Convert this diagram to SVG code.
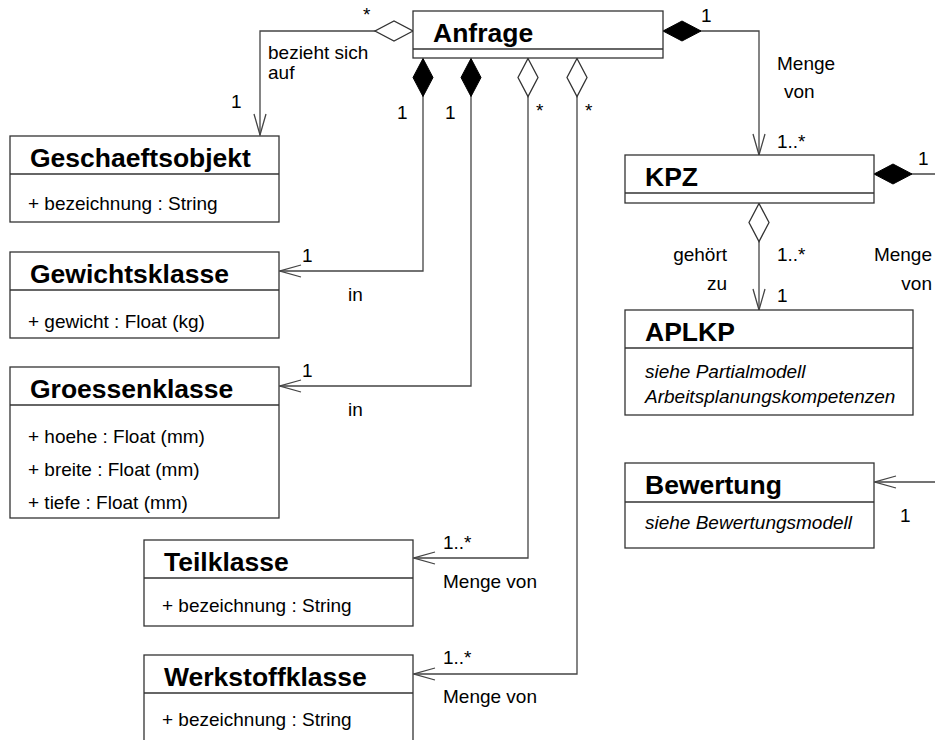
<svg xmlns="http://www.w3.org/2000/svg" width="935" height="740" viewBox="0 0 935 740">
  <style>
    .box { fill: #ffffff; stroke: #333333; stroke-width: 1.3; }
    .sep { stroke: #333333; stroke-width: 1.3; fill: none; }
    .name { font-family: "Liberation Sans", Arial, sans-serif; font-size: 26.5px; font-weight: bold; fill: #000000; }
    .attr { font-family: "Liberation Sans", Arial, sans-serif; font-size: 19px; fill: #000000; }
    .note { font-family: "Liberation Sans", Arial, sans-serif; font-size: 19px; font-style: italic; fill: #000000; }
    .lbl { font-family: "Liberation Sans", Arial, sans-serif; font-size: 19px; fill: #000000; }
    .conn { fill: none; stroke: #444444; stroke-width: 1.3; }
  </style>
  <defs>
    <marker id="arrowOpen" markerUnits="userSpaceOnUse" viewBox="0 0 23 14" refX="22" refY="7" markerWidth="23" markerHeight="14" orient="auto">
      <path d="M1,1 L22,7 L1,13" fill="none" stroke="#444444" stroke-width="1.3"/>
    </marker>
    <marker id="diamondOpen" markerUnits="userSpaceOnUse" viewBox="-1 -1 41 22" refX="0" refY="10" markerWidth="41" markerHeight="22" orient="auto">
      <path d="M0,10 L19,0 L38,10 L19,20 Z" fill="#ffffff" stroke="#333333" stroke-width="1.3"/>
    </marker>
    <marker id="diamondFilled" markerUnits="userSpaceOnUse" viewBox="-1 -1 41 22" refX="0" refY="10" markerWidth="41" markerHeight="22" orient="auto">
      <path d="M0,10 L19,0 L38,10 L19,20 Z" fill="#000000" stroke="#000000" stroke-width="1"/>
    </marker>
  </defs>

  <!-- associations -->
  <g id="connectors">
    <path class="conn" d="M413,31 H260 V135" marker-start="url(#diamondOpen)" marker-end="url(#arrowOpen)"/>
    <path class="conn" d="M423,58.5 V271 H280" marker-start="url(#diamondFilled)" marker-end="url(#arrowOpen)"/>
    <path class="conn" d="M471,58.5 V386 H280" marker-start="url(#diamondFilled)" marker-end="url(#arrowOpen)"/>
    <path class="conn" d="M528,58.5 V558 H414" marker-start="url(#diamondOpen)" marker-end="url(#arrowOpen)"/>
    <path class="conn" d="M577,58.5 V674 H414" marker-start="url(#diamondOpen)" marker-end="url(#arrowOpen)"/>
    <path class="conn" d="M663,31 H759 V155" marker-start="url(#diamondFilled)" marker-end="url(#arrowOpen)"/>
    <path class="conn" d="M759,203.5 V310" marker-start="url(#diamondOpen)" marker-end="url(#arrowOpen)"/>
    <path class="conn" d="M874,174 H940" marker-start="url(#diamondFilled)"/>
    <path class="conn" d="M940,482 H875" marker-end="url(#arrowOpen)"/>

    <!-- multiplicities and role names -->
    <text class="lbl" x="363" y="21">*</text>
    <text class="lbl" x="268" y="59">bezieht sich</text>
    <text class="lbl" x="268" y="79">auf</text>
    <text class="lbl" x="231" y="108">1</text>
    <text class="lbl" x="397" y="119">1</text>
    <text class="lbl" x="445" y="119">1</text>
    <text class="lbl" x="536" y="117">*</text>
    <text class="lbl" x="585" y="117">*</text>
    <text class="lbl" x="701" y="22">1</text>
    <text class="lbl" x="777" y="70">Menge</text>
    <text class="lbl" x="784" y="98">von</text>
    <text class="lbl" x="777" y="148">1..*</text>
    <text class="lbl" x="918" y="165">1</text>
    <text class="lbl" x="727" y="261" text-anchor="end">gehört</text>
    <text class="lbl" x="727" y="290" text-anchor="end">zu</text>
    <text class="lbl" x="777" y="261">1..*</text>
    <text class="lbl" x="777" y="302">1</text>
    <text class="lbl" x="932" y="261" text-anchor="end">Menge</text>
    <text class="lbl" x="932" y="290" text-anchor="end">von</text>
    <text class="lbl" x="900" y="522">1</text>
    <text class="lbl" x="302" y="262">1</text>
    <text class="lbl" x="348" y="301">in</text>
    <text class="lbl" x="302" y="377">1</text>
    <text class="lbl" x="348" y="416">in</text>
    <text class="lbl" x="443" y="549">1..*</text>
    <text class="lbl" x="443" y="588">Menge von</text>
    <text class="lbl" x="443" y="664">1..*</text>
    <text class="lbl" x="443" y="703">Menge von</text>
  </g>

  <g id="Anfrage">
    <rect class="box" x="413" y="11" width="250" height="47"/>
    <line class="sep" x1="413" y1="49" x2="663" y2="49"/>
    <text class="name" x="433" y="42">Anfrage</text>
  </g>

  <g id="Geschaeftsobjekt">
    <rect class="box" x="10" y="136" width="269" height="86"/>
    <line class="sep" x1="10" y1="174" x2="279" y2="174"/>
    <text class="name" x="30" y="167">Geschaeftsobjekt</text>
    <text class="attr" x="28" y="210">+ bezeichnung : String</text>
  </g>

  <g id="Gewichtsklasse">
    <rect class="box" x="10" y="252" width="269" height="86"/>
    <line class="sep" x1="10" y1="290" x2="279" y2="290"/>
    <text class="name" x="30" y="283">Gewichtsklasse</text>
    <text class="attr" x="28" y="328">+ gewicht : Float (kg)</text>
  </g>

  <g id="Groessenklasse">
    <rect class="box" x="10" y="367" width="269" height="151"/>
    <line class="sep" x1="10" y1="405" x2="279" y2="405"/>
    <text class="name" x="30" y="398">Groessenklasse</text>
    <text class="attr" x="28" y="443">+ hoehe : Float (mm)</text>
    <text class="attr" x="28" y="476">+ breite : Float (mm)</text>
    <text class="attr" x="28" y="509">+ tiefe : Float (mm)</text>
  </g>

  <g id="Teilklasse">
    <rect class="box" x="144" y="540" width="269" height="86"/>
    <line class="sep" x1="144" y1="578" x2="413" y2="578"/>
    <text class="name" x="164" y="571">Teilklasse</text>
    <text class="attr" x="162" y="612">+ bezeichnung : String</text>
  </g>

  <g id="Werkstoffklasse">
    <rect class="box" x="144" y="655" width="269" height="95"/>
    <line class="sep" x1="144" y1="693" x2="413" y2="693"/>
    <text class="name" x="164" y="686">Werkstoffklasse</text>
    <text class="attr" x="162" y="726">+ bezeichnung : String</text>
  </g>

  <g id="KPZ">
    <rect class="box" x="625" y="155" width="249" height="48"/>
    <line class="sep" x1="625" y1="193" x2="874" y2="193"/>
    <text class="name" x="645" y="186">KPZ</text>
  </g>

  <g id="APLKP">
    <rect class="box" x="625" y="310" width="288" height="105"/>
    <line class="sep" x1="625" y1="348" x2="913" y2="348"/>
    <text class="name" x="645" y="341">APLKP</text>
    <text class="note" x="645" y="378">siehe Partialmodell</text>
    <text class="note" x="645" y="403">Arbeitsplanungskompetenzen</text>
  </g>

  <g id="Bewertung">
    <rect class="box" x="625" y="463" width="249" height="85"/>
    <line class="sep" x1="625" y1="502" x2="874" y2="502"/>
    <text class="name" x="645" y="494">Bewertung</text>
    <text class="note" x="645" y="529">siehe Bewertungsmodell</text>
  </g>
</svg>
